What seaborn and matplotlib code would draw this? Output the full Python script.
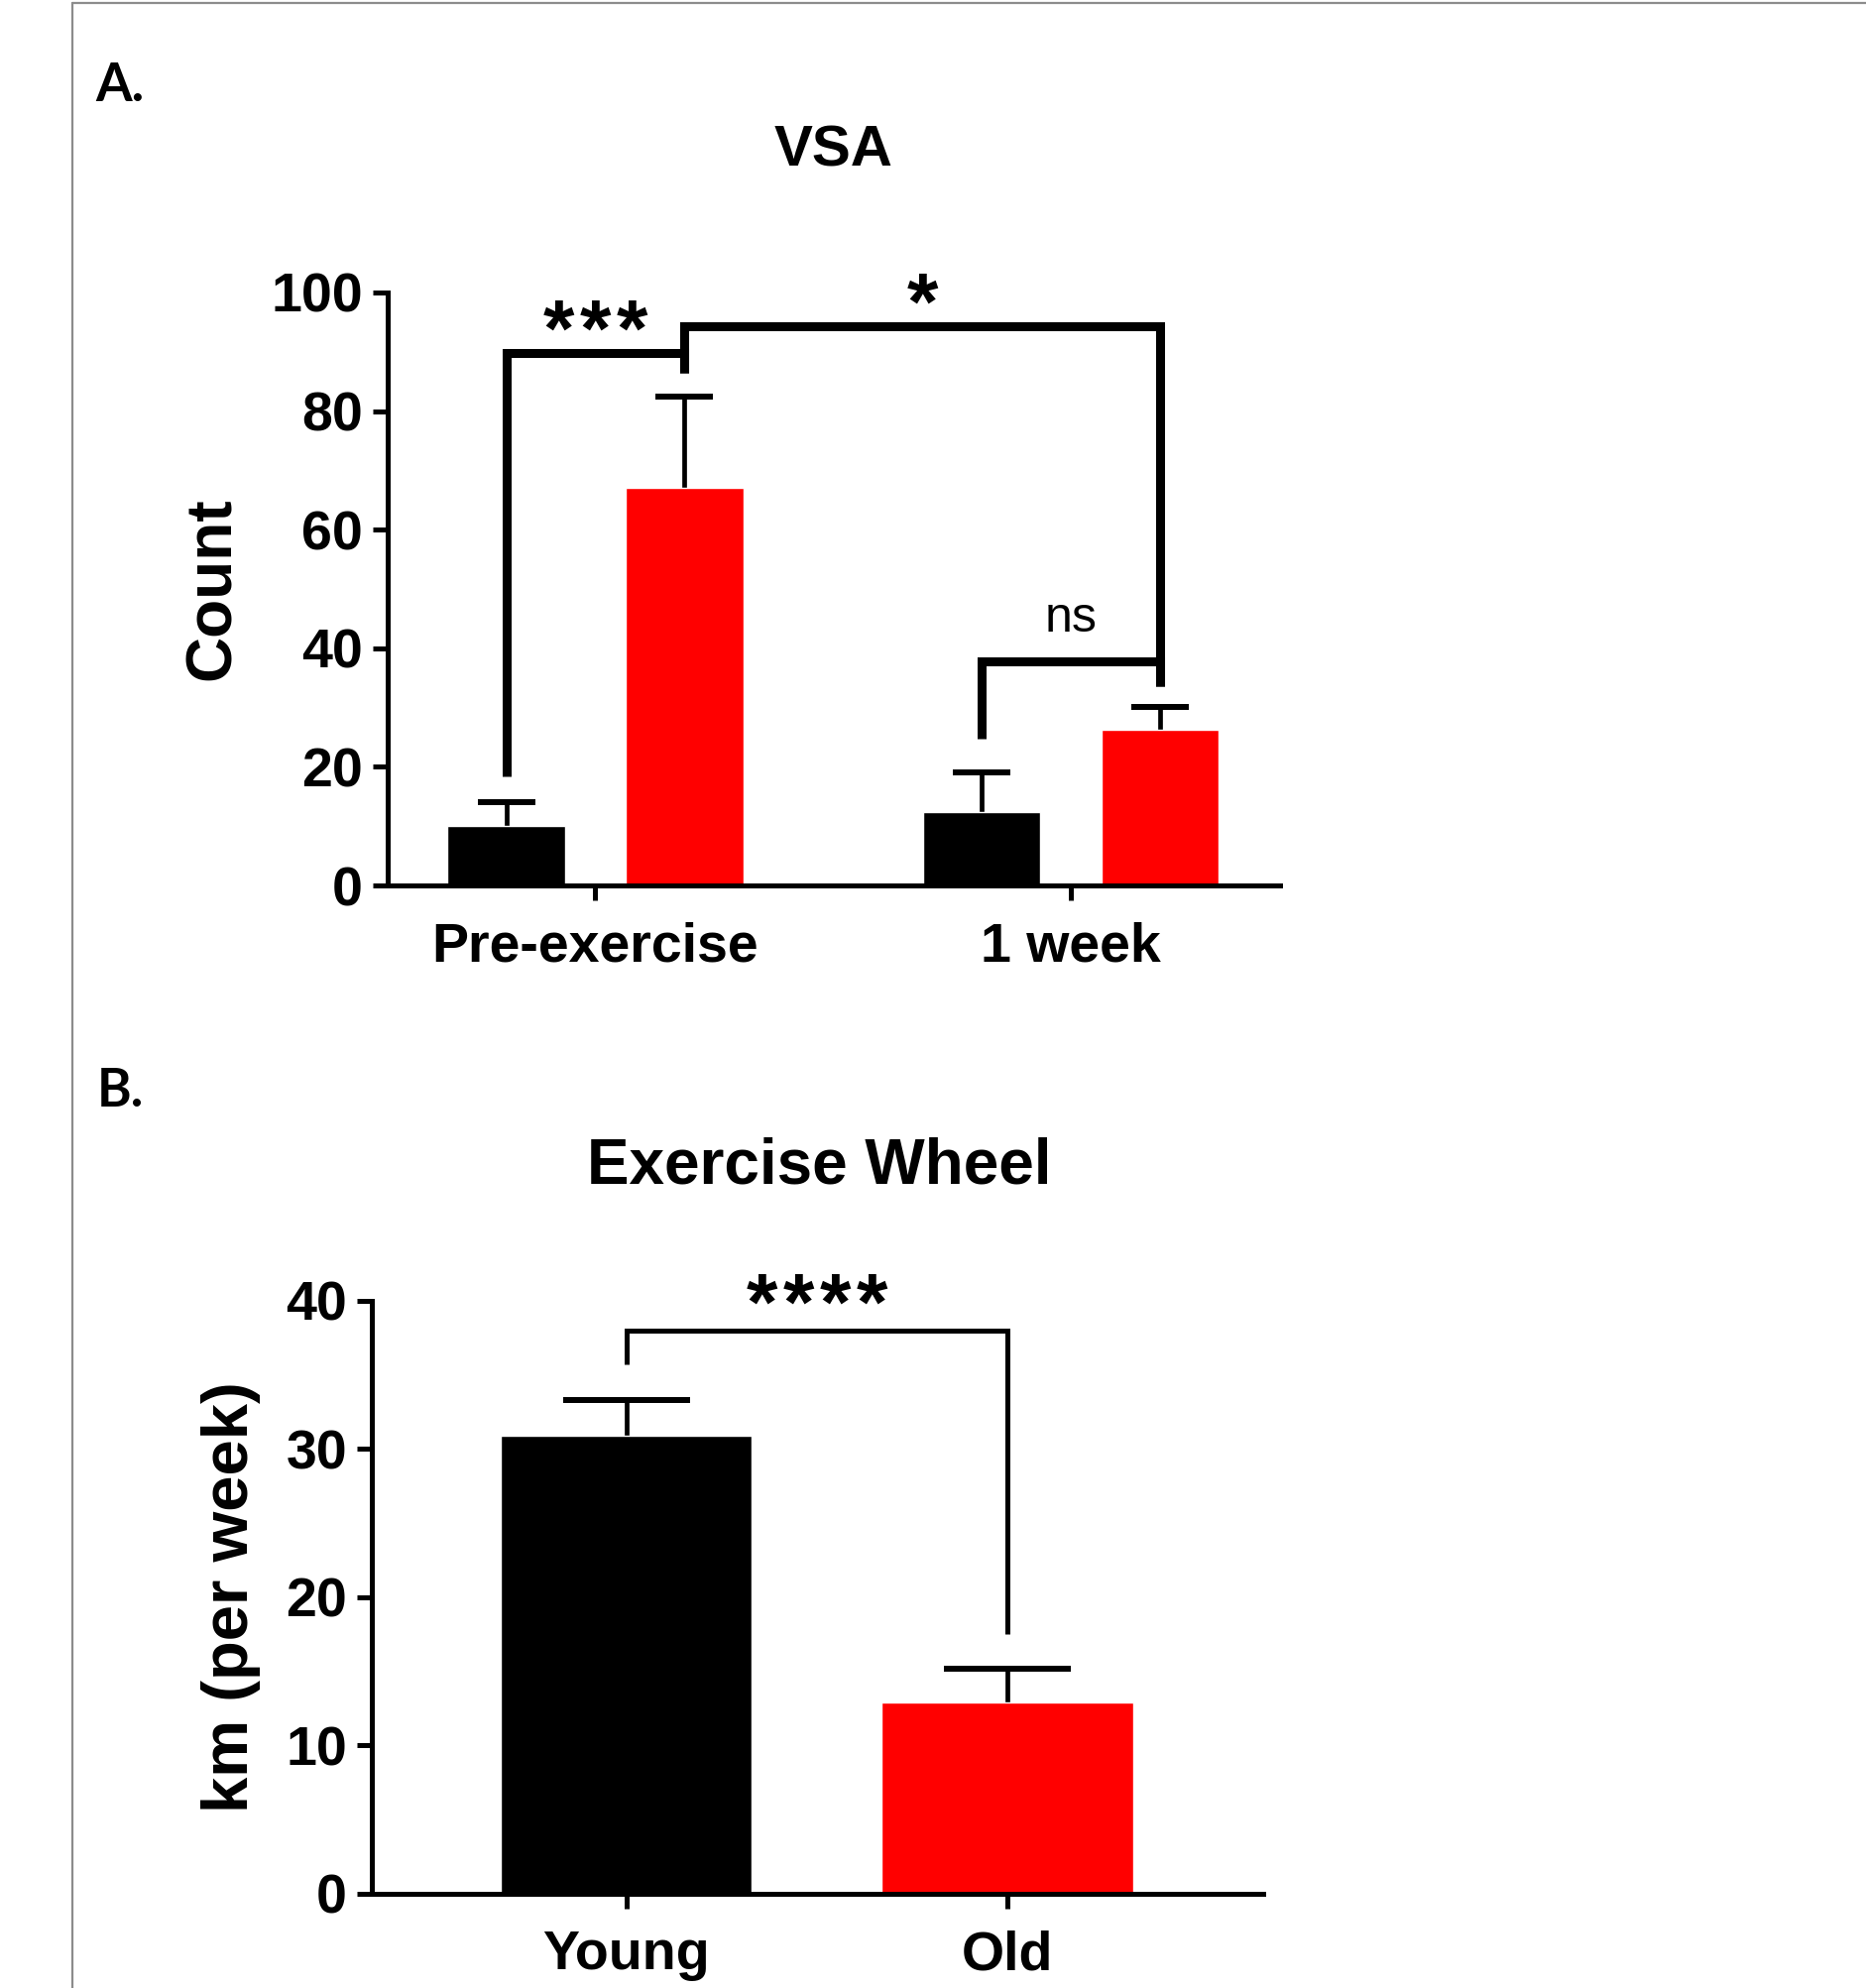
import numpy as np
import pandas as pd
import matplotlib
matplotlib.use("Agg")
import matplotlib.pyplot as plt
import seaborn as sns
from matplotlib.lines import Line2D

# ---- data ----
TIMEPOINTS = ["Pre-exercise", "1 week"]
AGE_GROUPS = ["Young", "Old"]
VSA_YOUNG = [10.0, 12.4]
VSA_YOUNG_SEM = [4.1, 6.6]
VSA_OLD = [67.1, 26.3]
VSA_OLD_SEM = [15.3, 3.8]

WHEEL_GROUPS = ["Young", "Old"]
WHEEL_KM = [30.9, 12.9]
WHEEL_SEM = [2.4, 2.3]

COLORS = {"Young": "#000000", "Old": "#ff0000"}

# significance brackets: (left bar, right bar, left foot, bar height, right foot)
# bars indexed as (timepoint, age group)
BRACKETS_A = [
    ((0, 0), (0, 1), 18.4, 89.8, 86.5),
    ((0, 1), (1, 1), 86.5, 94.3, 33.6),
    ((1, 0), (1, 1), 24.7, 37.8, 33.6),
]
STARS_A = [("***", 97.1), ("*", 101.6)]
NS_A = ("ns", 45.0)
BRACKET_B = (35.7, 38.0, 17.5)
STARS_B = ("****", 41.2)


def setup_axis(ax, ylim, yticks):
    ax.set_ylim(*ylim)
    ax.set_yticks(yticks)
    for side in ["top", "right"]:
        ax.spines[side].set_visible(False)
    for side in ["left", "bottom"]:
        ax.spines[side].set_linewidth(3.6)
        ax.spines[side].set_color("black")
    ax.tick_params(axis="both", direction="out", length=11, width=3.6,
                   labelsize=40, pad=7, colors="black")
    ax.tick_params(axis="x", pad=15)
    for lab in ax.get_xticklabels() + ax.get_yticklabels():
        lab.set_fontweight("bold")
    ax.set_xlabel("")


def add_errorbars(ax, xs, vals, sems, capsize, lw, capthick):
    _, caps, _ = ax.errorbar(xs, vals, yerr=[np.zeros(len(vals)), sems], fmt="none",
                             ecolor="black", elinewidth=lw, capsize=capsize,
                             capthick=capthick, zorder=0.5)
    # only keep the upper cap (GraphPad style)
    for cap in caps:
        if np.allclose(cap.get_ydata(), vals):
            cap.set_visible(False)


def asterisks(ax, x, y, s, size=58, spacing=26.6):
    # y is the visual centre of the asterisks; spaced out like the original
    n = len(s)
    for i, ch in enumerate(s):
        dx = (i - (n - 1) / 2) * spacing
        ax.annotate(ch, xy=(x, y), xytext=(dx, -18.5), textcoords="offset points",
                    ha="center", va="center", fontsize=size, fontweight="bold",
                    annotation_clip=False)


sns.set_style("ticks")
plt.rcParams["font.family"] = ["Liberation Sans", "DejaVu Sans"]
plt.rcParams["text.color"] = "black"
plt.rcParams["axes.labelcolor"] = "black"

fig = plt.figure(figsize=(18.83, 20.05), dpi=100)

# frame lines of the original figure panel
fig.add_artist(Line2D([73 / 1883, 73 / 1883], [0, 1 - 3 / 2005], color="#8c8c8c", lw=1.6))
fig.add_artist(Line2D([73 / 1883, 1], [1 - 3 / 2005, 1 - 3 / 2005], color="#8c8c8c", lw=1.6))

# ---------------- Panel A ----------------
df_a = pd.DataFrame({
    "Time": TIMEPOINTS * 2,
    "Age": [AGE_GROUPS[0]] * 2 + [AGE_GROUPS[1]] * 2,
    "Count": VSA_YOUNG + VSA_OLD,
})
ax_a = fig.add_axes([0.2076, 0.5546, 0.4780, 0.2983])
sns.barplot(data=df_a, x="Time", y="Count", hue="Age", order=TIMEPOINTS,
            hue_order=AGE_GROUPS, palette=COLORS, width=0.75, gap=0.34,
            errorbar=None, legend=False, saturation=1, ax=ax_a, zorder=1)
ax_a.set_xlim(-0.437, 1.44)
setup_axis(ax_a, (0, 100), [0, 20, 40, 60, 80, 100])
ax_a.set_ylabel("Count", fontsize=46, fontweight="bold")
ax_a.yaxis.set_label_coords(-0.162, 0.5)

pos_a = {}
for gi, cont in enumerate(ax_a.containers):
    for ti, rect in enumerate(cont):
        pos_a[(ti, gi)] = rect.get_x() + rect.get_width() / 2

add_errorbars(ax_a, [pos_a[(t, 0)] for t in range(2)], VSA_YOUNG, VSA_YOUNG_SEM, 21, 3.4, 4.3)
add_errorbars(ax_a, [pos_a[(t, 1)] for t in range(2)], VSA_OLD, VSA_OLD_SEM, 21, 3.4, 4.3)

for left, right, y0, ym, y1 in BRACKETS_A:
    xl, xr = pos_a[left], pos_a[right]
    ax_a.plot([xl, xl, xr, xr], [y0, ym, ym, y1], color="black", lw=6.5,
              solid_joinstyle="miter", solid_capstyle="butt", clip_on=False, zorder=3)

asterisks(ax_a, 0.0, STARS_A[0][1], STARS_A[0][0])
asterisks(ax_a, (pos_a[(0, 1)] + pos_a[(1, 1)]) / 2, STARS_A[1][1], STARS_A[1][0])
ax_a.text(1.0, NS_A[1], NS_A[0], ha="center", va="center", fontsize=36)

fig.text(841 / 1883, 1 - 153 / 2005, "VSA", ha="center", va="center",
         fontsize=42, fontweight="bold")
fig.text(96 / 1883, 1 - 86 / 2005, "A.", ha="left", va="center", fontsize=38,
         fontweight="bold", family=["Lato", "DejaVu Sans"])

# ---------------- Panel B ----------------
ax_b = fig.add_axes([0.1991, 0.0474, 0.4774, 0.2983])
sns.barplot(x=WHEEL_GROUPS, y=WHEEL_KM, hue=WHEEL_GROUPS, palette=COLORS,
            width=0.66, errorbar=None, legend=False, saturation=1, ax=ax_b, zorder=1)
ax_b.set_xlim(-0.668, 1.671)
setup_axis(ax_b, (0, 40), [0, 10, 20, 30, 40])
ax_b.set_ylabel("km (per week)", fontsize=47, fontweight="bold")
ax_b.yaxis.set_label_coords(-0.124, 0.5)

xs_b = []
for cont in ax_b.containers:
    for rect in cont:
        xs_b.append(rect.get_x() + rect.get_width() / 2)
xs_b = sorted(xs_b)
add_errorbars(ax_b, xs_b, WHEEL_KM, WHEEL_SEM, 46, 3.4, 4.3)

y0, ym, y1 = BRACKET_B
ax_b.plot([xs_b[0], xs_b[0], xs_b[1], xs_b[1]], [y0, ym, ym, y1], color="black",
          lw=3.6, solid_joinstyle="miter", solid_capstyle="butt", clip_on=False, zorder=3)
asterisks(ax_b, (xs_b[0] + xs_b[1]) / 2, STARS_B[1], STARS_B[0])

fig.text(826 / 1883, 1 - 1176 / 2005, "Exercise Wheel", ha="center", va="center",
         fontsize=46, fontweight="bold")
fig.text(98 / 1883, 1 - 1101 / 2005, "B.", ha="left", va="center", fontsize=38,
         fontweight="bold", family=["Lato", "DejaVu Sans"])

fig.savefig("out.png", dpi=100, facecolor="white")
